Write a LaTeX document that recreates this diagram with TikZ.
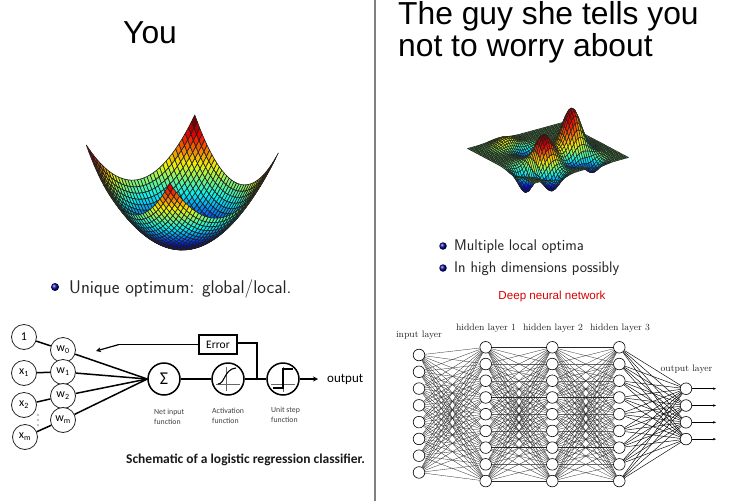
\documentclass[tikz,border=0pt]{standalone}
\usepackage{fontspec}
\setmainfont{Liberation Sans}
\setsansfont{Latin Modern Sans}
\newfontfamily\cali{Carlito}
\newfontfamily\cmr{Latin Modern Roman}
\usetikzlibrary{arrows.meta,shadings}
\makeatletter
\newcommand\vxx[3]{\csname #1X\the\numexpr#2\relax:\the\numexpr#3\relax\endcsname}
\newcommand\vyy[3]{\csname #1Y\the\numexpr#2\relax:\the\numexpr#3\relax\endcsname}
\newcommand\jetcol[2]{\fpeval{round(#2*max(0,min(1,1.5-abs(4*(#1)-3))),3)},\fpeval{round(#2*max(0,min(1,1.5-abs(4*(#1)-2))),3)},\fpeval{round(#2*max(0,min(1,1.5-abs(4*(#1)-1))),3)}}
\newcommand\quadcell[4]{% prefix,i,j,line width
  \edef\qq{\noexpand\definecolor{qc}{rgb}{\csname #1C#2:#3\endcsname}}\qq
  \filldraw[fill=qc,draw=black!88,line width=#4pt,line join=round]
    (\vxx{#1}{#2}{#3},\vyy{#1}{#2}{#3}) -- (\vxx{#1}{#2+1}{#3},\vyy{#1}{#2+1}{#3}) --
    (\vxx{#1}{#2+1}{#3+1},\vyy{#1}{#2+1}{#3+1}) -- (\vxx{#1}{#2}{#3+1},\vyy{#1}{#2}{#3+1}) -- cycle;}
\makeatother
\tikzset{
  ttl/.style={inner sep=0pt,anchor=base west,font=\fontsize{31.8}{33}\selectfont},
  ballb/.style={circle,inner sep=0pt,minimum size=8pt,shading=ball,ball color=blue!55!black},
  bull/.style={inner sep=0pt,anchor=base west,font=\sffamily\fontsize{18.4}{20}\selectfont,text=black!85},
  bulls/.style={inner sep=0pt,anchor=base west,font=\sffamily\fontsize{15.5}{17}\selectfont,text=black!85},
  cc/.style={circle,draw=black!85,line width=.8pt,fill=white,minimum size=25pt,inner sep=0pt,font=\cali\fontsize{12}{12}\selectfont},
  fc/.style={circle,draw=black,line width=1.5pt,fill=white,minimum size=32pt,inner sep=0pt},
  wire/.style={line width=1.5pt,draw=black},
  small/.style={inner sep=0pt,anchor=base west,align=left,font=\cali\fontsize{7.8}{10}\selectfont,text=black!75},
  nn/.style={circle,draw=black,line width=.6pt,fill=white,minimum size=11.6pt,inner sep=0pt},
  lay/.style={inner sep=0pt,font=\cmr\fontsize{9.4}{10}\selectfont,text=black!85},
  ed/.style={line width=.3pt,draw=black!85},
  edl/.style={line width=.12pt,draw=black!60},
  edd/.style={line width=.45pt,draw=black}
}
\begin{document}
\begin{tikzpicture}[x=1pt,y=-1pt]
\useasboundingbox (0,0) rectangle (750,501);
\fill[white] (0,0) rectangle (750,501);
\draw[line width=2pt,draw=black!50] (375,0) -- (375,501);
% titles
\node[ttl] (you) at (123,43) {You};
\node[ttl] (guy1) at (398,24) {The guy she tells you};
\node[ttl] (guy2) at (398,56) {not to worry about};
% bowl surface
\def\NP{34}
\foreach \i in {0,...,\NP}{\foreach \j in {0,...,\NP}{
  \edef\uu{\fpeval{1-2*\i/\NP}}\edef\vv{\fpeval{1-2*\j/\NP}}
  \edef\zz{\fpeval{(\uu*\uu+\vv*\vv)/2}}
  \expandafter\xdef\csname PX\i:\j\endcsname{\fpeval{round(182.3+54.25*\uu-41.75*\vv,2)}}
  \expandafter\xdef\csname PY\i:\j\endcsname{\fpeval{round(247-15*\uu-19*\vv-98*\zz,2)}}
  \expandafter\xdef\csname PC\i:\j\endcsname{\jetcol{\zz}{.95}}
}}
\pgfmathtruncatemacro\NPm{\NP-1}
\foreach \i in {0,...,\NPm}{\foreach \j in {0,...,\NPm}{\quadcell{P}{\i}{\j}{.62}}}
% peaks surface
\def\NQ{44}
\foreach \i in {0,...,\NQ}{\foreach \j in {0,...,\NQ}{
  \edef\uu{\fpeval{1-2*\i/\NQ}}\edef\vv{\fpeval{1-2*\j/\NQ}}
  \edef\ga{\fpeval{exp(-((\uu-.37)^2+(\vv+.22)^2)/.07)}}
  \edef\gb{\fpeval{exp(-((\uu+.3)^2+(\vv+.3)^2)/.05)}}
  \edef\gc{\fpeval{exp(-((\uu+.7)^2+(\vv+.35)^2)/.04)}}
  \edef\gd{\fpeval{exp(-((\uu+.45)^2+(\vv+.75)^2)/.04)}}
  \edef\ge{\fpeval{exp(-((\uu-.4)^2+(\vv+.75)^2)/.03)}}
  \edef\gf{\fpeval{exp(-((\uu+.36)^2+(\vv-.72)^2)/.06)}}
  \edef\gg{\fpeval{exp(-((\uu+.21)^2+(\vv-.33)^2)/.05)}}
  \edef\gh{\fpeval{exp(-((\uu-.55)^2+(\vv+.3)^2)/.03)}}
  \edef\gi{\fpeval{exp(-((\uu-.1)^2+(\vv+.6)^2)/.03)}}
  \edef\hh{\fpeval{46*\ga+28*\gb-25*\gc-19*\gd-12*\ge+8*\gf-10*\gg-8*\gh-6*\gi}}
  \edef\tt{\fpeval{.5+.5*(\ga+\gb-\gc-\gd-.9*\ge+.3*\gf-.8*\gg-.7*\gh-.6*\gi)}}
  \expandafter\xdef\csname QX\i:\j\endcsname{\fpeval{round(548+47.5*\uu-33*\vv,2)}}
  \expandafter\xdef\csname QY\i:\j\endcsname{\fpeval{round(153-13*\uu-17.5*\vv-\hh,2)}}
  \expandafter\xdef\csname QC\i:\j\endcsname{\jetcol{\tt}{.95}}
}}
\pgfmathtruncatemacro\NQm{\NQ-1}
\foreach \i in {0,...,\NQm}{\foreach \j in {0,...,\NQm}{\quadcell{Q}{\i}{\j}{.5}}}
% bullets
\node[ballb] (b1) at (55,287) {};
\node[bull] (t1) at (69,293) {Unique optimum: global/local.};
\node[ballb,minimum size=7.5pt] (b2) at (443,246) {};
\node[bulls] (t2) at (454,250) {Multiple local optima};
\node[ballb,minimum size=7.5pt] (b3) at (443,268) {};
\node[bulls] (t3) at (454,272) {In high dimensions possibly};
\node[inner sep=0pt,text=red!85!black,font=\fontsize{11.6}{12}\selectfont] (dnn) at (552,296) {Deep neural network};
% logistic regression
\node[cc] (one) at (24,337) {1};
\node[cc] (x1) at (24,373) {x\textsubscript{1}};
\node[cc] (x2) at (24,405) {x\textsubscript{2}};
\node[cc] (xm) at (25,437) {x\textsubscript{m}};
\node[cc] (w0) at (63,350) {w\textsubscript{0}};
\node[cc] (w1) at (63,372) {w\textsubscript{1}};
\node[cc] (w2) at (63,396) {w\textsubscript{2}};
\node[cc] (wm) at (63,420) {w\textsubscript{m}};
\node[fc,font=\cali\fontsize{18}{18}\selectfont] (sig) at (164,379) {Σ};
\node[fc] (act) at (228,379) {};
\node[fc] (stp) at (283,379) {};
\node[draw=black,line width=1.5pt,fill=white,minimum width=38pt,minimum height=19pt,inner sep=0pt,font=\cali\fontsize{11.5}{12}\selectfont] (err) at (218,344.5) {Error};
\node[inner sep=0pt,anchor=west,font=\cali\fontsize{13}{14}\selectfont] (out) at (327,379) {output};
\coordinate (outend) at (318,379);
\coordinate (fbk) at (119,344.5);
\coordinate (fbt) at (96,351);
\coordinate (jn) at (257,379);
\coordinate (jt) at (257,343);
\foreach \a/\b in {one/w0,x1/w1,x2/w2,xm/wm}{\draw[wire] (\a) -- (\b);}
\foreach \a in {w0,w1,w2,wm}{\draw[wire] (\a) -- (sig.west);}
\draw[wire] (sig) -- (act);
\draw[wire] (act) -- (stp);
\draw[wire,-{Stealth[length=5pt,width=5pt]}] (stp) -- (outend);
\draw[line width=1.2pt] (err.west) -- (fbk);
\draw[line width=1.2pt,-{Stealth[length=5pt,width=5pt]}] (fbk) -- (fbt);
\draw[line width=1.2pt] (err.east |- jt) -- (jt) -- (jn);
\foreach \d in {415,420,425}{\fill (38,\d) circle (.7);}
% icons
\draw[line width=.5pt,black!60] (216,384) -- (240,384) (226,367) -- (226,391);
\draw[line width=1.1pt] (218,384) .. controls (225,384) and (224,369) .. (236,368);
\draw[line width=.5pt,black!60] (271,384) -- (295,384) (283,367) -- (283,392);
\draw[line width=1.1pt] (273,388) -- (283,388) -- (283,369) -- (293,369);
\node[small] (l1) at (154,424) {Net input\\function};
\node[small] (l2) at (212,423) {Activation\\function};
\node[small] (l3) at (271,422) {Unit step\\function};
\node[inner sep=0pt,anchor=base west,font=\cali\bfseries\fontsize{13.5}{15}\selectfont,text=black!90] (cap) at (126,463) {Schematic of a logistic regression classifier.};
% neural network
\foreach \k in {1,...,8}{\node[nn] (I\k) at (419,355+16.78*\k-16.78) {};}
\foreach \k in {1,...,9}{
  \node[nn] (A\k) at (485.7,347.3+16.72*\k-16.72) {};
  \node[nn] (B\k) at (552.3,347.3+16.72*\k-16.72) {};
  \node[nn] (C\k) at (619.3,347.3+16.72*\k-16.72) {};
}
\foreach \k in {1,...,4}{\node[nn] (O\k) at (686,388.7+16.8*\k-16.8) {};
  \coordinate (E\k) at (716,388.7+16.8*\k-16.8);
  \draw[line width=.45pt,-{Stealth[length=3pt,width=2.4pt]}] (O\k) -- (E\k);}
\foreach \p in {1,...,8}{\foreach \q in {1,...,9}{\draw[ed] (I\p) -- (A\q);}}
\foreach \p in {1,...,9}{\foreach \q in {1,...,9}{%
  \ifnum\p=\q
    \ifnum\p=1 \def\es{ed}\else\ifnum\p=4 \def\es{ed}\else\ifnum\p=7 \def\es{ed}\else\ifnum\p=9 \def\es{ed}\else\def\es{edl}\fi\fi\fi\fi
  \else\def\es{ed}\fi
  \draw[\es] (A\p) -- (B\q);\draw[\es] (B\p) -- (C\q);}}
\foreach \p in {1,...,9}{\foreach \q in {1,...,4}{\draw[edd] (C\p) -- (O\q);}}
\node[lay] (li) at (419,335) {input layer};
\node[lay] (l1h) at (486,328) {hidden layer 1};
\node[lay] (l2h) at (553,328) {hidden layer 2};
\node[lay] (l3h) at (620,328) {hidden layer 3};
\node[lay] (lo) at (686.5,369) {output layer};
\end{tikzpicture}
\end{document}
